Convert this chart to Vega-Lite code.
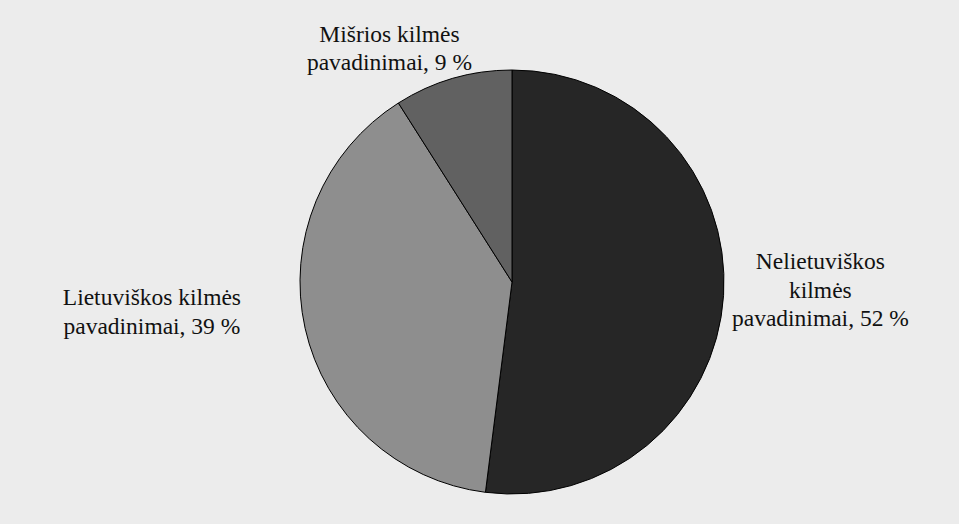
{
  "$schema": "https://vega.github.io/schema/vega-lite/v6.json",
  "width": 894,
  "height": 484,
  "autosize": {"type": "none"},
  "padding": {"left": 65, "right": 0, "top": 40, "bottom": 0},
  "background": "#ececec",
  "config": {"view": {"stroke": null}},
  "data": {
    "values": [
      {"kategorija": "Nelietuviškos kilmės pavadinimai", "dalis": 52, "ord": 1, "etikete": "Nelietuviškos\nkilmės\npavadinimai, 52 %"},
      {"kategorija": "Lietuviškos kilmės pavadinimai", "dalis": 39, "ord": 2, "etikete": "Lietuviškos kilmės\npavadinimai, 39 %"},
      {"kategorija": "Mišrios kilmės pavadinimai", "dalis": 9, "ord": 3, "etikete": "Mišrios kilmės\npavadinimai,  9 %"}
    ]
  },
  "encoding": {
    "theta": {"field": "dalis", "type": "quantitative", "stack": true},
    "order": {"field": "ord", "type": "quantitative"}
  },
  "layer": [
    {
      "mark": {"type": "arc", "outerRadius": 212, "stroke": "#000000", "strokeWidth": 1},
      "encoding": {
        "color": {
          "field": "kategorija",
          "type": "nominal",
          "scale": {
            "domain": ["Nelietuviškos kilmės pavadinimai", "Lietuviškos kilmės pavadinimai", "Mišrios kilmės pavadinimai"],
            "range": ["#262626", "#8e8e8e", "#616161"]
          },
          "legend": null
        }
      }
    },
    {
      "mark": {"type": "text", "radius": 309, "dy": -39, "font": "Liberation Serif", "fontSize": 23.5, "lineHeight": 28.5, "lineBreak": "\n", "align": "center", "baseline": "middle", "color": "#111111"},
      "encoding": {"text": {"condition": {"test": "datum.ord === 1", "field": "etikete"}, "value": ""}}
    },
    {
      "mark": {"type": "text", "radius": 369, "dy": -64, "font": "Liberation Serif", "fontSize": 23.5, "lineHeight": 28.5, "lineBreak": "\n", "align": "center", "baseline": "middle", "color": "#111111"},
      "encoding": {"text": {"condition": {"test": "datum.ord === 2", "field": "etikete"}, "value": ""}}
    },
    {
      "mark": {"type": "text", "radius": 242, "dx": -55, "dy": -15, "font": "Liberation Serif", "fontSize": 23.5, "lineHeight": 28.5, "lineBreak": "\n", "align": "center", "baseline": "middle", "color": "#111111"},
      "encoding": {"text": {"condition": {"test": "datum.ord === 3", "field": "etikete"}, "value": ""}}
    }
  ]
}
